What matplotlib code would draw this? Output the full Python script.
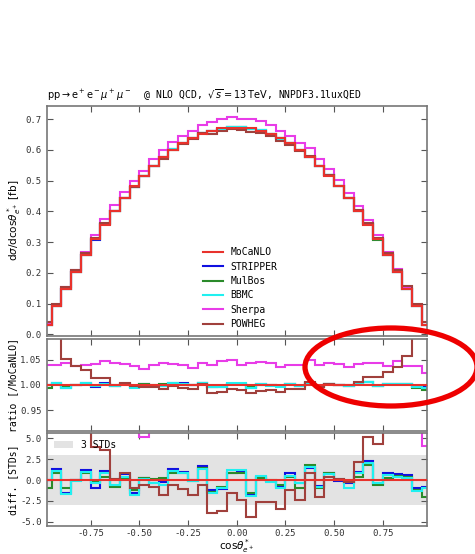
import numpy as np
import matplotlib
matplotlib.use("Agg")
import matplotlib.pyplot as plt
from matplotlib.patches import Ellipse

# bins in cos(theta*) : 40 bins of width 0.05 from -1 to 1
edges = np.linspace(-1.0, 1.0, 41)

# MoCaNLO distribution [fb]
mocanlo = [0.031, 0.091, 0.147, 0.203, 0.257, 0.309, 0.357, 0.402, 0.443, 0.481,
           0.516, 0.548, 0.576, 0.600, 0.621, 0.639, 0.653, 0.663, 0.670, 0.673,
           0.673, 0.670, 0.663, 0.653, 0.639, 0.621, 0.600, 0.576, 0.548, 0.516,
           0.481, 0.443, 0.402, 0.357, 0.309, 0.257, 0.203, 0.147, 0.091, 0.031]

# ratios to MoCaNLO
ratio_stripper = [1.000, 1.004, 0.995, 1.000, 1.003, 0.997, 1.003, 0.998, 1.002, 0.996,
                  1.001, 0.999, 0.999, 1.003, 1.003, 1.000, 1.004, 0.997, 0.997, 1.002,
                  1.002, 0.995, 1.001, 1.000, 0.998, 1.002, 0.999, 1.003, 0.998, 1.002,
                  1.000, 0.999, 1.002, 1.006, 0.999, 1.002, 1.002, 1.002, 0.996, 0.996]
ratio_mulbos = [0.995, 1.002, 0.997, 1.000, 1.002, 0.999, 1.001, 0.998, 1.001, 0.997,
                1.001, 1.000, 1.001, 1.002, 1.002, 1.000, 1.004, 0.996, 0.998, 1.002,
                1.001, 0.996, 1.000, 1.000, 0.998, 1.001, 0.998, 1.004, 0.997, 1.002,
                1.000, 0.999, 1.001, 1.005, 0.998, 1.001, 1.001, 1.001, 0.995, 0.991]
ratio_bbmc = [1.000, 1.003, 0.995, 1.000, 1.003, 0.999, 1.002, 0.998, 1.001, 0.995,
              1.000, 0.999, 0.998, 1.003, 1.002, 1.000, 1.003, 0.996, 0.997, 1.003,
              1.003, 0.995, 1.001, 0.999, 0.997, 1.001, 0.999, 1.004, 0.998, 1.002,
              1.000, 0.998, 1.002, 1.005, 0.999, 1.002, 1.001, 1.001, 0.996, 0.995]
ratio_sherpa = [1.040, 1.040, 1.044, 1.038, 1.040, 1.041, 1.047, 1.044, 1.042, 1.037,
                1.031, 1.039, 1.044, 1.042, 1.040, 1.034, 1.044, 1.040, 1.047, 1.049,
                1.040, 1.044, 1.045, 1.044, 1.035, 1.040, 1.040, 1.050, 1.040, 1.044,
                1.042, 1.036, 1.042, 1.044, 1.044, 1.037, 1.047, 1.037, 1.037, 1.023]
ratio_powheg = [1.28, 1.10, 1.051, 1.038, 1.029, 1.014, 1.014, 1.000, 1.003, 0.999,
                0.997, 0.997, 0.993, 0.998, 0.995, 0.993, 1.001, 0.984, 0.986, 0.993,
                0.990, 0.984, 0.988, 0.990, 0.987, 0.993, 0.992, 1.006, 0.997, 1.002,
                1.000, 1.000, 1.006, 1.016, 1.015, 1.025, 1.036, 1.058, 1.10, 1.28]

# differences to MoCaNLO in standard deviations
diff_stripper = [0.0, 1.3, -1.6, 0.0, 1.2, -0.9, 1.1, -0.7, 0.7, -1.6,
                 0.2, -0.3, -0.2, 1.3, 1.0, 0.0, 1.7, -1.2, -1.1, 0.9,
                 1.0, -1.7, 0.4, -0.1, -0.8, 0.8, -0.3, 1.4, -0.7, 0.9,
                 -0.1, -0.4, 1.0, 2.3, -0.5, 0.8, 0.7, 0.6, -1.0, -0.8]
diff_mulbos = [-1.0, 0.8, -1.0, 0.0, 0.8, -0.2, 0.4, -0.8, 0.3, -1.2,
               0.2, 0.1, 0.2, 0.9, 0.8, -0.1, 1.5, -1.4, -0.8, 0.9,
               0.8, -1.6, 0.2, 0.0, -0.6, 0.4, -0.9, 1.8, -1.0, 0.8,
               0.0, -0.2, 0.4, 1.8, -0.6, 0.2, 0.5, 0.4, -1.2, -2.0]
diff_bbmc = [0.0, 1.1, -1.7, -0.1, 1.0, -0.4, 0.9, -0.6, 0.4, -1.8,
             0.1, -0.4, -0.6, 1.1, 0.9, -0.1, 1.3, -1.5, -1.0, 1.2,
             1.2, -1.9, 0.5, -0.2, -1.0, 0.5, -0.4, 1.6, -0.8, 0.7,
             0.1, -0.9, 0.8, 2.0, -0.4, 0.6, 0.4, 0.3, -1.3, -0.9]
diff_sherpa = [14, 15, 16, 14, 15, 15, 17, 16, 15, 13,
               5.2, 14, 16, 15, 14, 12, 16, 15, 17, 18,
               15, 16, 17, 16, 13, 15, 15, 18, 15, 16,
               15, 13, 15, 16, 16, 13, 15, 12, 11, 4.1]
diff_powheg = [20, 12, 11, 9, 7, 4.0, 3.6, 0.1, 0.9, -1.0,
               -0.6, -0.8, -1.8, -0.6, -1.1, -1.8, -0.6, -3.9, -3.7, -1.6,
               -2.4, -4.4, -2.6, -2.6, -3.5, -1.2, -2.4, 0.8, -2.0, 0.4,
               0.1, -0.2, 2.2, 5.2, 4.3, 7, 9, 12, 13, 20]

labels = ['MoCaNLO', 'STRIPPER', 'MulBos', 'BBMC', 'Sherpa', 'POWHEG']
colors = ['#e8322c', '#1010e0', '#2a8a2a', '#20f0f0', '#e83ce8', '#a0403c']

plt.rcParams['font.family'] = ['DejaVu Sans Mono']
plt.rcParams['axes.unicode_minus'] = False
plt.rcParams['mathtext.fontset'] = 'dejavusans'

fig = plt.figure(figsize=(4.75, 5.54), dpi=100)
L, W = 46.7 / 475, 380 / 475
ax1 = fig.add_axes([L, 1 - 335.5 / 554, W, (335.5 - 106) / 554])
ax2 = fig.add_axes([L, 1 - 430.7 / 554, W, (430.7 - 339.3) / 554])
ax3 = fig.add_axes([L, 1 - 526 / 554, W, (526 - 433.3) / 554])

moca = np.array(mocanlo)
ratios = [np.ones(40), ratio_stripper, ratio_mulbos, ratio_bbmc, ratio_sherpa, ratio_powheg]
diffs = [np.zeros(40), diff_stripper, diff_mulbos, diff_bbmc, diff_sherpa, diff_powheg]
draw_order = [1, 2, 3, 4, 5, 0]
lw = 1.5

# top panel
for i in draw_order:
    ax1.stairs(moca * np.array(ratios[i]), edges, baseline=None, color=colors[i],
               lw=lw, label=labels[i], zorder=3 if i == 0 else 2)
h, l = ax1.get_legend_handles_labels()
order = [l.index(n) for n in labels]
ax1.legend([h[k] for k in order], labels, loc='lower center', bbox_to_anchor=(0.51, -0.01),
           frameon=False, fontsize=7, labelspacing=0.45, handlelength=2.0)
ax1.set_ylim(-0.004, 0.743)
ax1.set_yticks(np.arange(0, 0.71, 0.1))
ax1.set_ylabel(r'd$\sigma$/dcos$\theta^*_{e^+}$ [fb]', family='DejaVu Sans', fontsize=7.5)
ax1.set_title(r'$\mathrm{pp}\rightarrow\mathrm{e}^+\mathrm{e}^-\mu^+\mu^-$  @ NLO QCD, $\sqrt{s}=13\,\mathrm{TeV}$, NNPDF3.1luxQED',
              loc='left', fontsize=7.0, pad=5)

# ratio panel
for i in draw_order:
    ax2.stairs(ratios[i], edges, baseline=None, color=colors[i], lw=lw,
               zorder=3 if i == 0 else 2)
ax2.set_ylim(0.91, 1.09)
ax2.set_yticks([0.95, 1.00, 1.05])
ax2.set_yticklabels(['0.95', '1.00', '1.05'])
ax2.set_ylabel('ratio [/MoCaNLO]', fontsize=7)

# diff panel
ax3.axhspan(-3, 3, color='#e3e3e3', lw=0, label='3 STDs', zorder=0)
for i in draw_order:
    ax3.stairs(diffs[i], edges, baseline=None, color=colors[i], lw=lw,
               zorder=3 if i == 0 else 2)
ax3.set_ylim(-5.5, 5.6)
ax3.set_yticks([-5, -2.5, 0, 2.5, 5])
ax3.set_yticklabels(['-5.0', '-2.5', '0.0', '2.5', '5.0'])
ax3.set_ylabel('diff. [STDs]', fontsize=7)
ax3.legend(loc='upper left', frameon=False, fontsize=7, handlelength=2.0,
           borderaxespad=0.3)
ax3.set_xlabel(r'cos$\theta^*_{e^+}$', family='DejaVu Sans', fontsize=7.5)

for ax in (ax1, ax2, ax3):
    ax.set_xlim(-0.975, 0.975)
    ax.set_xticks([-0.75, -0.5, -0.25, 0, 0.25, 0.5, 0.75])
    ax.tick_params(direction='in', top=True, right=True, labelsize=6.5,
                   length=4, width=0.8, color='#555555', labelcolor='#333333')
    for s in ax.spines.values():
        s.set_color('#777777')
        s.set_linewidth(1.2)
for ax in (ax1, ax2):
    ax.tick_params(labelbottom=False)
ax3.tick_params(axis='x', pad=2.5)
ax3.set_xticklabels(['-0.75', '-0.50', '-0.25', '0.00', '0.25', '0.50', '0.75'])
ax1.yaxis.set_label_coords(-0.062, 0.5)
ax2.yaxis.set_label_coords(-0.075, 0.5)
ax3.yaxis.set_label_coords(-0.075, 0.5)
ax3.xaxis.set_label_coords(0.5, -0.125)

# red highlight ellipse
ell = Ellipse((391 / 475, 1 - 367 / 554), 172 / 475, 78 / 554, transform=fig.transFigure,
              fill=False, edgecolor='#ee0000', lw=3.8, zorder=10)
fig.patches.append(ell)

fig.savefig('out.png', dpi=100)
